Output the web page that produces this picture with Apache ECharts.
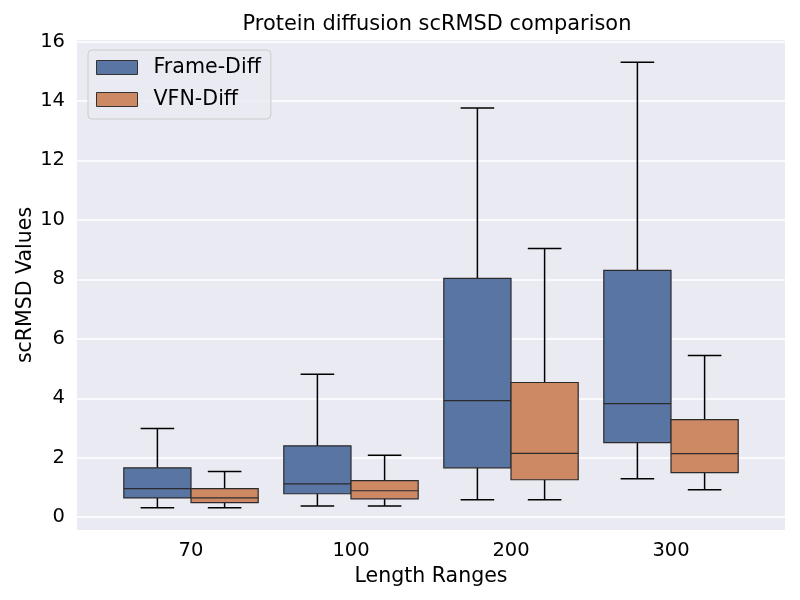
<!DOCTYPE html>
<html>
<head>
<meta charset="utf-8">
<script src="https://cdn.jsdelivr.net/npm/echarts@6/dist/echarts.min.js"></script>
<style>html,body{margin:0;padding:0;background:#fff}#c{width:800px;height:600px}</style>
</head>
<body>
<div id="c"></div>
<script>
// Categories (length ranges)
const categories = ['70', '100', '200', '300'];
// Box statistics: [min whisker, Q1, median, Q3, max whisker]
const frameDiffStats = [
  [0.32, 0.65, 0.96, 1.66, 2.98],
  [0.38, 0.79, 1.12, 2.40, 4.81],
  [0.59, 1.66, 3.92, 8.03, 13.76],
  [1.29, 2.51, 3.82, 8.30, 15.30]
];
const vfnDiffStats = [
  [0.32, 0.49, 0.65, 0.96, 1.54],
  [0.38, 0.62, 0.89, 1.23, 2.08],
  [0.59, 1.26, 2.15, 4.53, 9.04],
  [0.92, 1.50, 2.14, 3.28, 5.44]
];
const seriesNames = ['Frame-Diff', 'VFN-Diff'];
const seriesColors = ['#5975a4', '#cc8963'];

const FONT = 'DejaVu Sans';
const BOX_FRAC = 0.42;
const Y_MIN = -0.43, Y_MAX = 16.05;

function makeRender(side, color) {
  return function (params, api) {
    const cat = api.value(0);
    const vMin = api.value(1), q1 = api.value(2), med = api.value(3), q3 = api.value(4), vMax = api.value(5);
    const band = api.size([1, 0])[0];
    const bw = band * BOX_FRAC;
    const cx0 = api.coord([cat, 0])[0];
    const cx = cx0 + side * bw / 2;
    const yMin = api.coord([cat, vMin])[1];
    const yQ1 = api.coord([cat, q1])[1];
    const yMed = api.coord([cat, med])[1];
    const yQ3 = api.coord([cat, q3])[1];
    const yMax = api.coord([cat, vMax])[1];
    const capW = bw / 2;
    const lineStyle = { stroke: '#000000', lineWidth: 1.5 };
    return {
      type: 'group',
      children: [
        { type: 'line', shape: { x1: cx, y1: yQ3, x2: cx, y2: yMax }, style: lineStyle },
        { type: 'line', shape: { x1: cx, y1: yQ1, x2: cx, y2: yMin }, style: lineStyle },
        { type: 'line', shape: { x1: cx - capW / 2, y1: yMax, x2: cx + capW / 2, y2: yMax }, style: lineStyle },
        { type: 'line', shape: { x1: cx - capW / 2, y1: yMin, x2: cx + capW / 2, y2: yMin }, style: lineStyle },
        { type: 'rect', shape: { x: cx - bw / 2, y: yQ3, width: bw, height: yQ1 - yQ3 },
          style: { fill: color, stroke: '#2b2b2b', lineWidth: 1.2 } },
        { type: 'line', shape: { x1: cx - bw / 2, y1: yMed, x2: cx + bw / 2, y2: yMed },
          style: { stroke: '#2b2b2b', lineWidth: 1.2 } }
      ]
    };
  };
}

function toData(stats) {
  return stats.map((s, i) => [i].concat(s));
}

const chart = echarts.init(document.getElementById('c'), null, { renderer: 'canvas' });
chart.setOption({
  backgroundColor: '#ffffff',
  animation: false,
  textStyle: { fontFamily: FONT },
  title: {
    text: 'Protein diffusion scRMSD comparison',
    left: 432, top: 9, textAlign: 'center',
    textStyle: { fontFamily: FONT, fontSize: 20.9, fontWeight: 'normal', color: '#000' }
  },
  legend: {
    orient: 'vertical', left: 88, top: 50,
    icon: 'rect', itemWidth: 41, itemHeight: 14, itemGap: 11,
    padding: [7, 10, 9, 8],
    backgroundColor: 'rgba(234,234,242,0.8)',
    borderColor: '#cccccc', borderWidth: 1, borderRadius: 4,
    textStyle: { fontFamily: FONT, fontSize: 20.6, color: '#000', padding: [0, 0, 0, 11] },
    data: seriesNames.map((n, i) => ({
      name: n,
      itemStyle: { color: seriesColors[i], borderColor: '#333333', borderWidth: 1 }
    }))
  },
  grid: [
    { left: 77, right: 15, top: 40, bottom: 70, show: true, backgroundColor: '#eaeaf2', borderWidth: 0 },
    { left: 111, right: 49, top: 40, bottom: 70, show: false }
  ],
  xAxis: [
    { type: 'value', gridIndex: 0, min: 0, max: 1, show: false },
    {
      type: 'category', gridIndex: 1, data: categories, boundaryGap: true,
      name: 'Length Ranges', nameLocation: 'middle', nameGap: 33,
      nameTextStyle: { fontFamily: FONT, fontSize: 20.5, color: '#000' },
      axisLine: { show: false }, axisTick: { show: false },
      axisLabel: { fontFamily: FONT, fontSize: 19.5, color: '#000', margin: 11 },
      splitLine: { show: false }
    }
  ],
  yAxis: [
    {
      type: 'value', gridIndex: 0, min: Y_MIN, max: Y_MAX, splitNumber: 8,
      name: 'scRMSD Values', nameLocation: 'middle', nameGap: 41, nameRotate: 90,
      nameMoveOverlap: false,
      nameTextStyle: { fontFamily: FONT, fontSize: 20.5, color: '#000' },
      axisLine: { show: false }, axisTick: { show: false },
      axisLabel: { fontFamily: FONT, fontSize: 19.5, color: '#000', margin: 12, showMinLabel: false, showMaxLabel: false },
      splitLine: { show: true, showMinLine: false, showMaxLine: false, lineStyle: { color: '#ffffff', width: 1.6 } }
    },
    {
      type: 'value', gridIndex: 1, min: Y_MIN, max: Y_MAX, splitNumber: 8, show: false,
      splitLine: { show: false }
    }
  ],
  series: [
    {
      name: seriesNames[0], type: 'custom', xAxisIndex: 1, yAxisIndex: 1,
      itemStyle: { color: seriesColors[0], borderColor: '#333333', borderWidth: 1 },
      renderItem: makeRender(-1, seriesColors[0]),
      encode: { x: 0, y: [1, 2, 3, 4, 5] },
      data: toData(frameDiffStats)
    },
    {
      name: seriesNames[1], type: 'custom', xAxisIndex: 1, yAxisIndex: 1,
      itemStyle: { color: seriesColors[1], borderColor: '#333333', borderWidth: 1 },
      renderItem: makeRender(1, seriesColors[1]),
      encode: { x: 0, y: [1, 2, 3, 4, 5] },
      data: toData(vfnDiffStats)
    }
  ]
});
</script>
</body>
</html>
